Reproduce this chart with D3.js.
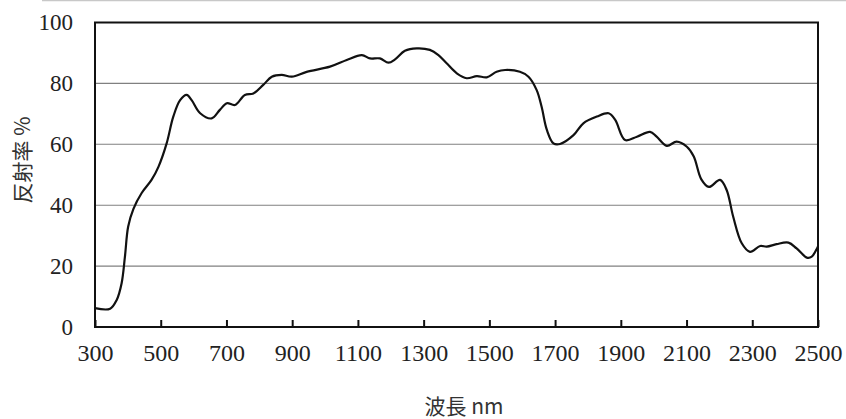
<!DOCTYPE html>
<html>
<head>
<meta charset="utf-8">
<script src="https://cdn.jsdelivr.net/npm/d3@7"></script>
<style>
  body { margin: 0; background: #fff; }
  svg { display: block; }
  .tick text { font-family: "Liberation Serif", "DejaVu Serif", serif; }
</style>
</head>
<body>
<div id="chart"></div>
<script>
// data (wavelength nm, reflectance %)
const wavelengths = [300, 346, 366, 381, 391, 401, 417, 442, 472, 493, 518, 538, 559, 579, 594, 620, 655, 680, 701, 726, 756, 782, 812, 838, 868, 899, 944, 1015, 1066, 1112, 1137, 1167, 1193, 1213, 1243, 1279, 1319, 1345, 1370, 1401, 1431, 1462, 1492, 1522, 1548, 1593, 1619, 1644, 1659, 1675, 1695, 1715, 1756, 1786, 1827, 1863, 1883, 1913, 1949, 1989, 2009, 2040, 2070, 2101, 2122, 2145, 2168, 2202, 2222, 2242, 2268, 2293, 2324, 2344, 2374, 2410, 2435, 2466, 2481, 2497, 2500];
const reflectance = [6.2, 6.0, 8.9, 14.4, 23, 33, 38.8, 44, 48.3, 52.6, 60.3, 69, 74.5, 76.2, 74.5, 70.2, 68.5, 71.3, 73.5, 72.9, 76.2, 76.7, 79.5, 82.2, 82.8, 82.2, 83.8, 85.5, 87.7, 89.3, 88.2, 88.2, 86.8, 87.9, 90.7, 91.5, 91, 89.3, 86.6, 83.3, 81.7, 82.4, 82, 83.8, 84.4, 83.8, 82.2, 77.8, 72.3, 64.7, 60.3, 60.1, 63, 66.9, 69.1, 70.2, 68, 61.4, 62.5, 64.1, 62.5, 59.5, 60.9, 59.2, 56, 48.5, 46, 48.3, 45, 36.2, 27.5, 24.7, 26.6, 26.4, 27.2, 27.7, 25.8, 22.8, 23.1, 25.8, 26.5];
const xTicks = [300, 500, 700, 900, 1100, 1300, 1500, 1700, 1900, 2100, 2300, 2500];
const yTicks = [0, 20, 40, 60, 80, 100];

const width = 846, height = 419;
const margin = { top: 22.5, right: 28, bottom: 92, left: 95 };
const w = width - margin.left - margin.right;
const h = height - margin.top - margin.bottom;
const serif = "'Liberation Serif', 'DejaVu Serif', serif";

const svg = d3.select("#chart").append("svg")
    .attr("width", width)
    .attr("height", height);

// faint scan line at the very top
svg.append("line")
    .attr("x1", 42).attr("x2", width).attr("y1", 0.5).attr("y2", 0.5)
    .attr("stroke", "#c8c8c8").attr("stroke-width", 1.5);

const g = svg.append("g")
    .attr("transform", `translate(${margin.left}, ${margin.top})`);

const xScale = d3.scaleLinear().domain([300, 2500]).range([0, w]);
const yScale = d3.scaleLinear().domain([0, 100]).range([h, 0]);

// horizontal grid
g.append("g")
    .selectAll("line")
    .data(yTicks.filter(d => d > 0 && d < 100))
    .enter()
    .append("line")
    .attr("x1", 0).attr("x2", w)
    .attr("y1", d => yScale(d)).attr("y2", d => yScale(d))
    .attr("stroke", "#808080").attr("stroke-width", 1.1);

// x axis, ticks pointing up into the plot
const xAxis = d3.axisBottom(xScale).tickValues(xTicks).tickSize(-7).tickPadding(17).tickFormat(d3.format("d"));
const xAxisGroup = g.append("g")
    .attr("transform", `translate(0, ${h})`)
    .call(xAxis)
    .attr("font-family", serif)
    .attr("font-size", 24);
xAxisGroup.select(".domain").remove();
xAxisGroup.selectAll(".tick line").attr("stroke", "#111").attr("stroke-width", 2);
xAxisGroup.selectAll("text").attr("fill", "#222");

const yAxis = d3.axisLeft(yScale).tickValues(yTicks).tickSize(0).tickPadding(22);
const yAxisGroup = g.append("g")
    .call(yAxis)
    .attr("font-family", serif)
    .attr("font-size", 23);
yAxisGroup.select(".domain").remove();
yAxisGroup.selectAll("text").attr("fill", "#222");

// frame
g.append("rect")
    .attr("x", 0).attr("y", 0).attr("width", w).attr("height", h)
    .attr("fill", "none").attr("stroke", "#111").attr("stroke-width", 2);

// spectrum
const points = wavelengths.map((d, i) => [d, reflectance[i]]);
const line = d3.line()
    .x(d => xScale(d[0]))
    .y(d => yScale(d[1]))
    .curve(d3.curveCatmullRom.alpha(0.5));

g.append("path")
    .datum(points)
    .attr("fill", "none")
    .attr("stroke", "#111")
    .attr("stroke-width", 2.2)
    .attr("stroke-linejoin", "round")
    .attr("d", line);

// axis titles
svg.append("text")
    .attr("transform", "translate(30, 160) rotate(-90)")
    .attr("text-anchor", "middle")
    .attr("font-family", "'Noto Sans CJK JP', sans-serif")
    .attr("font-size", 21)
    .attr("fill", "#333")
    .text("反射率 %");

svg.append("text")
    .attr("x", 464)
    .attr("y", 414)
    .attr("text-anchor", "middle")
    .attr("font-family", "'Noto Sans CJK JP', sans-serif")
    .attr("font-size", 21)
    .attr("fill", "#333")
    .text("波長 nm");
</script>
</body>
</html>
